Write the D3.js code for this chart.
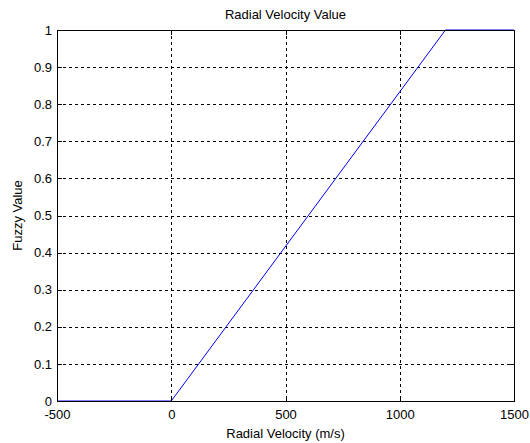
<!DOCTYPE html>
<html>
<head>
<meta charset="utf-8">
<script src="https://cdn.jsdelivr.net/npm/d3@7"></script>
<style>
  html, body { margin: 0; padding: 0; background: #fff; }
  svg { display: block; }
  text { font-family: "Liberation Sans", Arial, sans-serif; fill: #000; }
</style>
</head>
<body>
<svg id="chart" width="530" height="443"></svg>
<script>
// Membership function: radial velocity (m/s) -> fuzzy value
const velocity = [-500, 0, 1200, 1500];
const fuzzy    = [0, 0, 1, 1];
const xTicks = [-500, 0, 500, 1000, 1500];
const yTicks = [0, 0.1, 0.2, 0.3, 0.4, 0.5, 0.6, 0.7, 0.8, 0.9, 1];

const FONT = 13;
const svg = d3.select("#chart");
const m = { left: 57, top: 30, right: 514, bottom: 401 };

const x = d3.scaleLinear().domain([-500, 1500]).range([m.left, m.right]);
const y = d3.scaleLinear().domain([0, 1]).range([m.bottom, m.top]);

svg.append("rect").attr("width", 530).attr("height", 443).attr("fill", "#fff");

// dashed grid
const grid = svg.append("g").attr("stroke", "#000").attr("stroke-width", 1)
  .attr("stroke-dasharray", "3,3").attr("shape-rendering", "crispEdges");
grid.selectAll("line.gx").data(xTicks.slice(1, -1)).join("line")
  .attr("x1", d => Math.round(x(d)) + 0.5).attr("x2", d => Math.round(x(d)) + 0.5)
  .attr("y1", m.top).attr("y2", m.bottom);
grid.selectAll("line.gy").data(yTicks.slice(1, -1)).join("line")
  .attr("y1", d => Math.round(y(d)) + 0.5).attr("y2", d => Math.round(y(d)) + 0.5)
  .attr("x1", m.left).attr("x2", m.right);

// data line
const line = d3.line().x((d, i) => x(velocity[i])).y((d, i) => y(fuzzy[i]));
svg.append("path").datum(velocity)
  .attr("d", line).attr("fill", "none").attr("stroke", "#0000ff").attr("stroke-width", 1);

// axes with inward ticks
const xAxis = d3.axisBottom(x).tickValues(xTicks).tickSize(-5).tickPadding(9).tickFormat(d => String(d));
const yAxis = d3.axisLeft(y).tickValues(yTicks).tickSize(-5).tickPadding(5)
  .tickFormat(d => d === 0 ? "0" : d === 1 ? "1" : d3.format(".1f")(d));
const xTop = d3.axisTop(x).tickValues(xTicks).tickSize(-5).tickFormat("");
const yRight = d3.axisRight(y).tickValues(yTicks).tickSize(-5).tickFormat("");

function styleAxis(g) {
  g.attr("shape-rendering", "crispEdges");
  g.select(".domain").attr("stroke", "#000");
  g.selectAll(".tick line").attr("stroke", "#000");
  g.selectAll("text").attr("font-size", FONT).attr("font-family", "Liberation Sans, Arial, sans-serif");
}
svg.append("g").attr("transform", `translate(0,${m.bottom})`).call(xAxis).call(styleAxis);
svg.append("g").attr("transform", `translate(${m.left},0)`).call(yAxis).call(styleAxis);
svg.append("g").attr("transform", `translate(0,${m.top})`).call(xTop).call(styleAxis);
svg.append("g").attr("transform", `translate(${m.right},0)`).call(yRight).call(styleAxis);

// titles
svg.append("text").attr("x", (m.left + m.right) / 2).attr("y", 19)
  .attr("text-anchor", "middle").attr("font-size", FONT).text("Radial Velocity Value");
svg.append("text").attr("x", (m.left + m.right) / 2).attr("y", 438)
  .attr("text-anchor", "middle").attr("font-size", FONT).text("Radial Velocity (m/s)");
svg.append("text").attr("transform", `translate(22,${(m.top + m.bottom) / 2}) rotate(-90)`)
  .attr("text-anchor", "middle").attr("font-size", FONT).text("Fuzzy Value");
</script>
</body>
</html>
